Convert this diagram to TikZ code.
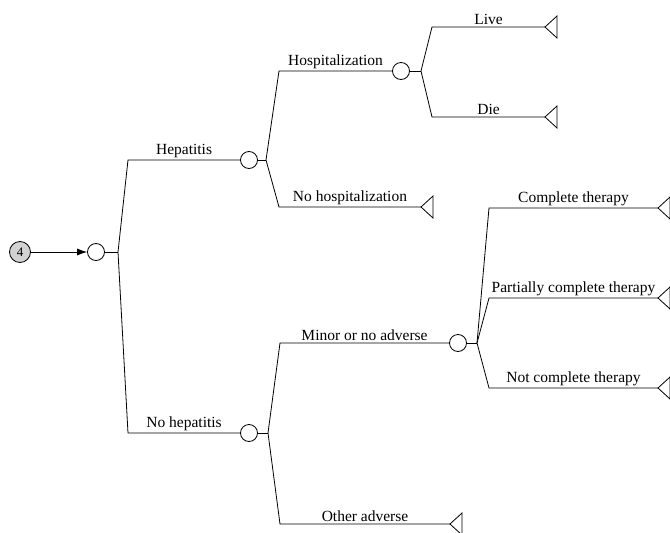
\documentclass[tikz,border=0pt]{standalone}
\usepackage{fontspec}
\setmainfont{Liberation Serif}
\usetikzlibrary{arrows.meta,calc}
\begin{document}
\begin{tikzpicture}[x=1pt,y=-1pt,
  line width=0.8pt,
  chance/.style={circle,draw,minimum size=17pt,inner sep=0pt},
  start/.style={circle,draw,fill=gray!35,minimum size=21pt,inner sep=0pt,font=\fontsize{13}{15}\selectfont},
  lbl/.style={anchor=south,inner sep=2pt,font=\fontsize{15.5}{18}\selectfont},
  endtri/.pic={\draw (0,0) -- (12,-11) -- (12,11) -- cycle;}
]
\useasboundingbox (0,0) rectangle (670,533);

% decision tree nodes
\node[start]  (n4) at (20,252) {4};
\node[chance] (c0) at (96,252) {};
\coordinate   (b0) at (118,252);
\coordinate   (k1) at (128,160);
\coordinate   (k2) at (128,433);
\node[chance] (c1) at (249,160) {};
\node[chance] (c2) at (249,433) {};

% hepatitis branch
\coordinate   (b1) at (266,160);
\coordinate   (k3) at (279,71);
\coordinate   (k4) at (279,207);
\node[chance] (c3) at (401,71) {};
\coordinate   (t1) at (421,207);
\coordinate   (b3) at (421,71);
\coordinate   (k5) at (432,27);
\coordinate   (k6) at (432,117);
\coordinate   (t2) at (545,27);
\coordinate   (t3) at (545,117);

% no-hepatitis branch
\coordinate   (b2) at (268,433);
\coordinate   (k7) at (280,343);
\coordinate   (k8) at (280,524);
\node[chance] (c4) at (458,343) {};
\coordinate   (t4) at (450,524);
\coordinate   (b4) at (477,343);
\coordinate   (k9) at (489,208);
\coordinate   (k10) at (489,298);
\coordinate   (k11) at (489,388);
\coordinate   (t5) at (658,208);
\coordinate   (t6) at (658,298);
\coordinate   (t7) at (658,388);

% connectors
\draw[-{Latex[length=10pt,width=7pt]}] (n4) -- (c0);
\draw (c0) -- (b0);
\draw (b0) -- (k1) -- (c1);
\draw (b0) -- (k2) -- (c2);
\draw (c1) -- (b1);
\draw (b1) -- (k3) -- (c3);
\draw (b1) -- (k4) -- (t1);
\draw (c3) -- (b3);
\draw (b3) -- (k5) -- (t2);
\draw (b3) -- (k6) -- (t3);
\draw (c2) -- (b2);
\draw (b2) -- (k7) -- (c4);
\draw (b2) -- (k8) -- (t4);
\draw (c4) -- (b4);
\draw (b4) -- (k9) -- (t5);
\draw (b4) -- (k10) -- (t6);
\draw (b4) -- (k11) -- (t7);

% terminal nodes
\foreach \t in {t1,t2,t3,t4,t5,t6,t7} \pic at (\t) {endtri};

% branch labels
\node[lbl] (l1)  at ($(k1)!0.5!(c1.west)$) {Hepatitis};
\node[lbl] (l2)  at ($(k2)!0.5!(c2.west)$) {No hepatitis};
\node[lbl] (l3)  at ($(k3)!0.5!(c3.west)$) {Hospitalization};
\node[lbl] (l4)  at ($(k4)!0.5!(t1)$) {No hospitalization};
\node[lbl] (l5)  at ($(k5)!0.5!(t2)$) {Live};
\node[lbl] (l6)  at ($(k6)!0.5!(t3)$) {Die};
\node[lbl] (l7)  at ($(k7)!0.5!(c4.west)$) {Minor or no adverse};
\node[lbl] (l8)  at ($(k8)!0.5!(t4)$) {Other adverse};
\node[lbl] (l9)  at ($(k9)!0.5!(t5)$) {Complete therapy};
\node[lbl] (l10) at ($(k10)!0.5!(t6)$) {Partially complete therapy};
\node[lbl] (l11) at ($(k11)!0.5!(t7)$) {Not complete therapy};
\end{tikzpicture}
\end{document}
